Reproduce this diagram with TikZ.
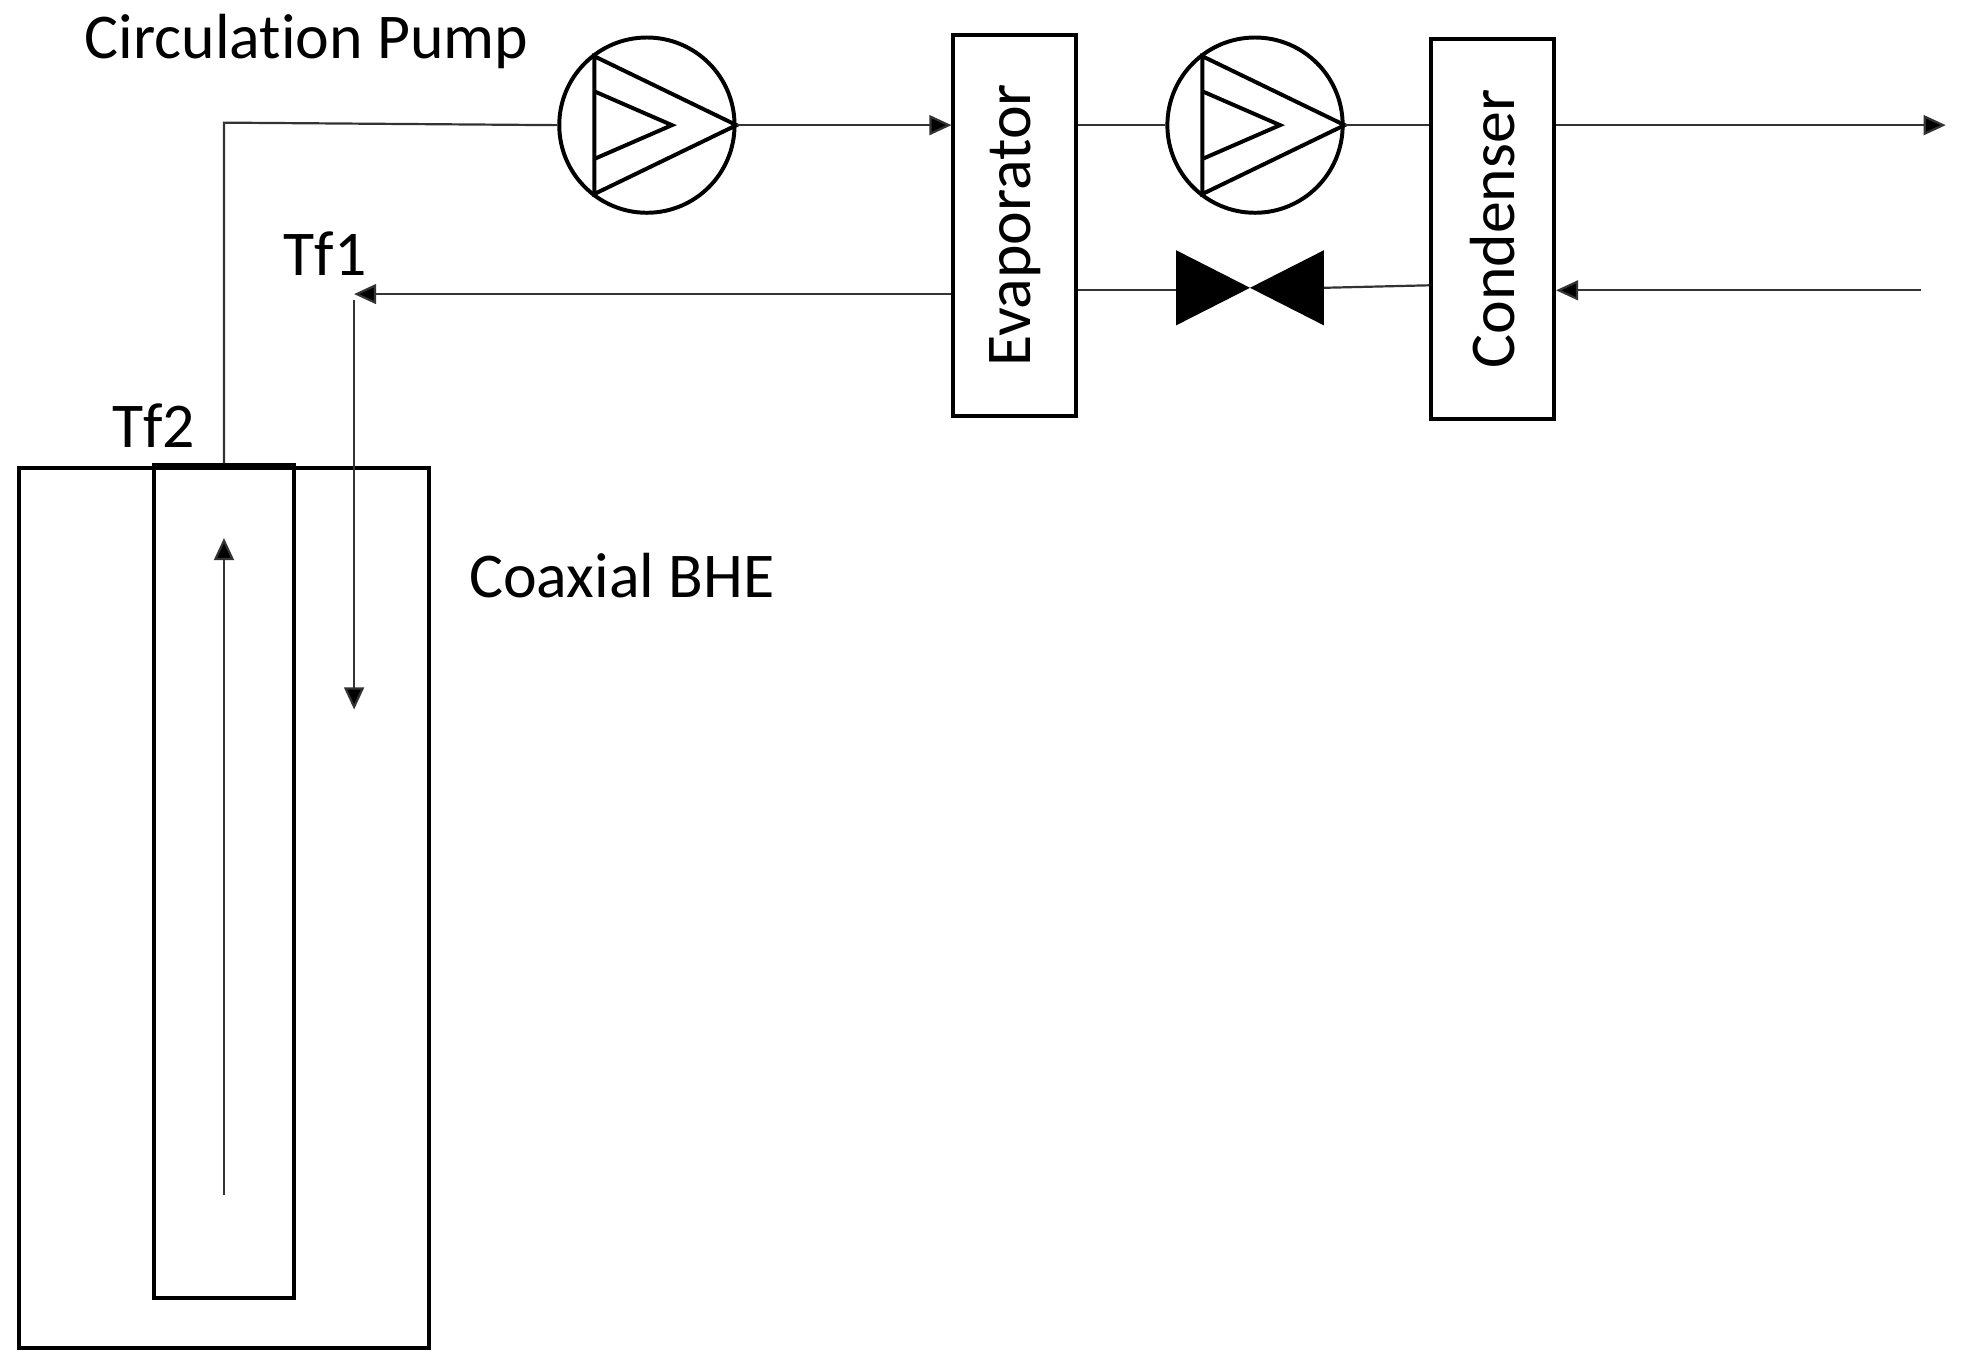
\documentclass[tikz,border=0pt]{standalone}
\usepackage{fontspec}
\setmainfont[Ligatures={NoCommon,NoRare,NoDiscretionary}]{Carlito}
\usetikzlibrary{arrows.meta}
\begin{document}
\begin{tikzpicture}[x=0.01cm,y=-0.01cm,
  ln/.style={line width=0.5pt,draw=black!80},
  arr/.style={ln,-{Triangle[length=5pt,width=4.5pt,fill=black]}},
  box/.style={draw,line width=0.9pt,minimum width=0.98cm,minimum height=3.04cm,inner sep=0},
  lbl/.style={font=\fontsize{14.5}{16}\selectfont,inner sep=0},
  pump/.style={draw,circle,line width=0.9pt,minimum size=1.4cm,inner sep=0}]
\useasboundingbox (0,0) rectangle (1568,1093);
% BHE
\node[draw,line width=0.9pt,minimum width=3.28cm,minimum height=7.03cm,inner sep=0] (outer) at (179,725.5) {};
\node[draw,line width=0.9pt,minimum width=1.12cm,minimum height=6.65cm,inner sep=0] (inner) at (179,704.5) {};
\coordinate (b1) at (179,955); \coordinate (b2) at (179,430);
\draw[arr] (b1) -- (b2);
\coordinate (corner) at (179,98);
% pumps
\node[pump] (p1) at (517,100) {};
\node[pump] (p2) at (1003,100) {};
\foreach \p in {p1,p2}{
  \draw[line width=0.9pt] ([xshift=-0.42cm,yshift=0.55cm]\p.center) -- (\p.east) -- ([xshift=-0.42cm,yshift=-0.55cm]\p.center) -- cycle;
  \draw[line width=0.9pt] ([xshift=-0.42cm,yshift=0.27cm]\p.center) -- ([xshift=0.2cm]\p.center) -- ([xshift=-0.42cm,yshift=-0.27cm]\p.center);
}
% boxes
\node[box] (evap) at (811,180) {};
\node[lbl,rotate=90] at (evap.center) {Evaporator};
\node[box] (cond) at (1193,183) {};
\node[lbl,rotate=90] at (cond.center) {Condenser};
% valve
\coordinate (v) at (999,230);
\fill ([xshift=-0.59cm,yshift=0.3cm]v) -- ([xshift=0.59cm,yshift=-0.3cm]v) -- ([xshift=0.59cm,yshift=0.3cm]v) -- ([xshift=-0.59cm,yshift=-0.3cm]v) -- cycle;
\coordinate (vl) at (940,232); \coordinate (vr) at (1058,230);
% connections
\draw[ln] (inner.north) -- (corner) -- (p1.west);
\draw[arr] (p1.east) -- (evap.west |- p1.east);
\draw[ln] (evap.east |- p2.west) -- (p2.west);
\draw[ln] (p2.east) -- (cond.west |- p2.east);
\coordinate (outR) at (1555,100);
\draw[arr] (cond.east |- outR) -- (outR);
\coordinate (inR) at (1535,232);
\draw[arr] (inR) -- (cond.east |- inR);
\draw[ln] (cond.west |- 0,228) -- (vr);
\draw[ln] (vl) -- (evap.east |- vl);
\coordinate (tf1) at (283,235);
\draw[arr] (evap.west |- tf1) -- (tf1);
\coordinate (d1) at (283,240); \coordinate (d2) at (283,567);
\draw[arr] (d1) -- (d2);
% labels
\node[lbl] (lp) at (245,33) {Circulation Pump};
\node[lbl] (l1) at (260,203) {Tf1};
\node[lbl] (l2) at (123,340) {Tf2};
\node[lbl] (l3) at (497,460) {Coaxial BHE};
\end{tikzpicture}
\end{document}
